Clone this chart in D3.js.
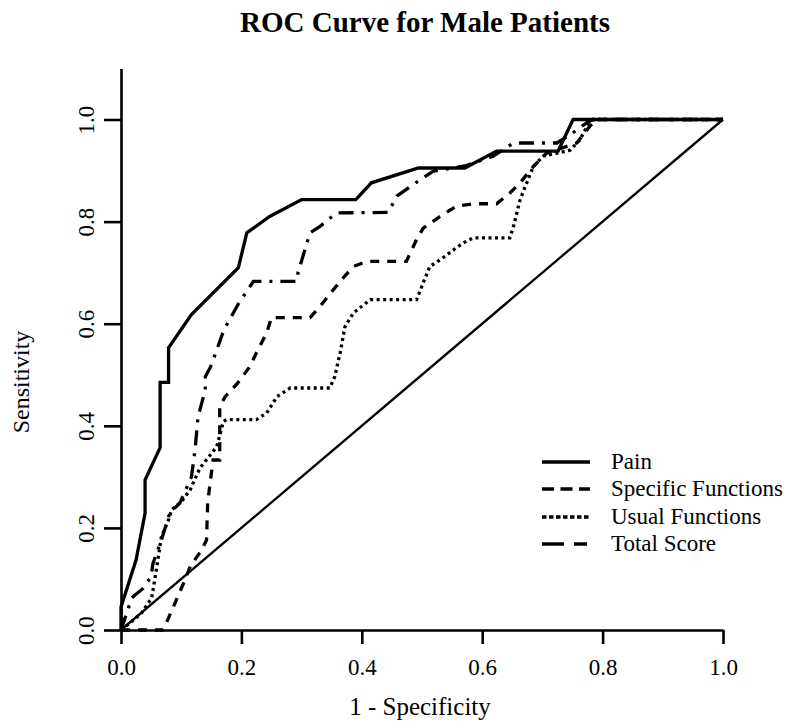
<!DOCTYPE html>
<html>
<head>
<meta charset="utf-8">
<script src="https://cdn.jsdelivr.net/npm/d3@7"></script>
<style>
  body { margin: 0; background: #fff; }
  svg { display: block; font-family: "Liberation Serif", "DejaVu Serif", serif; }
</style>
</head>
<body>
<svg id="chart" width="801" height="728"></svg>
<script>
// values (x = 1 - specificity, y = sensitivity)
const painFpr = [0, 0, 0.025, 0.04, 0.04, 0.065, 0.065, 0.079, 0.079, 0.117, 0.195, 0.209, 0.247, 0.30, 0.39, 0.416, 0.494, 0.571, 0.624, 0.726, 0.751, 1.0];
const painTpr = [0, 0.045, 0.137, 0.229, 0.294, 0.357, 0.485, 0.485, 0.553, 0.618, 0.71, 0.778, 0.81, 0.843, 0.843, 0.876, 0.905, 0.905, 0.938, 0.938, 1.0, 1.0];

const specFpr = [0, 0.07, 0.081, 0.104, 0.115, 0.134, 0.142, 0.144, 0.148, 0.153, 0.164, 0.164, 0.173, 0.194, 0.214, 0.225, 0.242, 0.25, 0.314, 0.33, 0.364, 0.386, 0.408, 0.474, 0.491, 0.502, 0.53, 0.557, 0.585, 0.624, 0.646, 0.663, 0.685, 0.707, 0.757, 0.779, 0.79, 1.0];
const specTpr = [0, 0, 0.029, 0.092, 0.124, 0.157, 0.176, 0.249, 0.288, 0.333, 0.333, 0.437, 0.457, 0.484, 0.516, 0.543, 0.582, 0.612, 0.612, 0.633, 0.683, 0.712, 0.722, 0.722, 0.765, 0.787, 0.81, 0.83, 0.835, 0.835, 0.856, 0.876, 0.908, 0.934, 0.954, 0.987, 1.0, 1.0];

const usualFpr = [0, 0.015, 0.034, 0.051, 0.056, 0.062, 0.067, 0.079, 0.084, 0.10, 0.115, 0.131, 0.159, 0.17, 0.175, 0.225, 0.242, 0.259, 0.281, 0.347, 0.355, 0.364, 0.372, 0.386, 0.414, 0.491, 0.502, 0.513, 0.53, 0.568, 0.585, 0.646, 0.652, 0.663, 0.674, 0.685, 0.701, 0.746, 0.762, 0.776, 0.784, 1.0];
const usualTpr = [0, 0.014, 0.033, 0.063, 0.098, 0.143, 0.182, 0.216, 0.235, 0.251, 0.275, 0.317, 0.359, 0.408, 0.412, 0.412, 0.425, 0.457, 0.474, 0.474, 0.496, 0.543, 0.594, 0.621, 0.647, 0.647, 0.68, 0.712, 0.725, 0.758, 0.768, 0.768, 0.791, 0.843, 0.876, 0.908, 0.928, 0.94, 0.96, 0.99, 1.0, 1.0];

const totalFpr = [0, 0.018, 0.037, 0.05, 0.053, 0.067, 0.081, 0.098, 0.117, 0.123, 0.128, 0.14, 0.14, 0.149, 0.171, 0.196, 0.22, 0.292, 0.294, 0.314, 0.33, 0.358, 0.444, 0.458, 0.497, 0.519, 0.571, 0.618, 0.652, 0.724, 0.746, 0.774, 0.784, 1.0];
const totalTpr = [0, 0.063, 0.082, 0.104, 0.13, 0.176, 0.229, 0.249, 0.30, 0.353, 0.418, 0.47, 0.496, 0.516, 0.588, 0.641, 0.683, 0.683, 0.70, 0.778, 0.79, 0.817, 0.818, 0.85, 0.882, 0.899, 0.909, 0.928, 0.954, 0.954, 0.97, 0.994, 1.0, 1.0];

const refFpr = [0, 1];
const refTpr = [0, 1];

const seriesNames = ["Pain", "Specific Functions", "Usual Functions", "Total Score"];
const xTicks = [0, 0.2, 0.4, 0.6, 0.8, 1.0];
const yTicks = [0, 0.2, 0.4, 0.6, 0.8, 1.0];

// line styles per series
const styles = {
    "Pain": { dash: null, legendDash: null },
    "Specific Functions": { dash: "9,8", legendDash: "12,6.5" },
    "Usual Functions": { dash: "3,3.5", legendDash: "4.5,2.5" },
    "Total Score": { dash: "15,8,3,8", legendDash: "22,10,13,10" }
};

function zipPoints(xs, ys) {
    return xs.map((x, i) => ({ x: x, y: ys[i] }));
}

const series = [
    { name: "Pain", points: zipPoints(painFpr, painTpr) },
    { name: "Specific Functions", points: zipPoints(specFpr, specTpr) },
    { name: "Usual Functions", points: zipPoints(usualFpr, usualTpr) },
    { name: "Total Score", points: zipPoints(totalFpr, totalTpr) }
];

const svg = d3.select("#chart");

const area = { left: 121, right: 723, bottom: 630, top1: 119.5 };

const scX = d3.scaleLinear().domain([0, 1]).range([area.left, area.right]);
const unitY = area.bottom - area.top1;
const scY = d3.scaleLinear().domain([0, 1.1]).range([area.bottom, area.bottom - 1.1 * unitY]);

// title
svg.append("text")
    .attr("x", 425)
    .attr("y", 32)
    .attr("text-anchor", "middle")
    .style("font-size", "29px")
    .style("font-weight", "bold")
    .text("ROC Curve for Male Patients");

// axes
const axisX = d3.axisBottom(scX)
    .tickValues(xTicks)
    .tickSize(14)
    .tickSizeOuter(0)
    .tickFormat(d3.format(".1f"));

const gx = svg.append("g")
    .attr("transform", `translate(0, ${area.bottom})`)
    .call(axisX);

gx.selectAll("text")
    .attr("y", 45)
    .attr("dy", 0)
    .style("font-size", "23px")
    .style("fill", "#000");

const axisY = d3.axisLeft(scY)
    .tickValues(yTicks)
    .tickSize(17)
    .tickSizeOuter(0)
    .tickFormat(d3.format(".1f"));

const gy = svg.append("g")
    .attr("transform", `translate(${area.left}, 0)`)
    .call(axisY);

gy.selectAll("text")
    .attr("transform", "rotate(-90)")
    .attr("x", 0)
    .attr("y", -27)
    .attr("dy", 0)
    .attr("text-anchor", "middle")
    .style("font-size", "23px")
    .style("fill", "#000");

svg.selectAll(".domain, .tick line")
    .attr("stroke", "#000")
    .attr("stroke-width", 2.6);

gx.attr("font-family", null).attr("font-size", null);
gy.attr("font-family", null).attr("font-size", null);

// axis labels
svg.append("text")
    .attr("x", 420)
    .attr("y", 715)
    .attr("text-anchor", "middle")
    .style("font-size", "25px")
    .text("1 - Specificity");

svg.append("text")
    .attr("transform", "translate(29, 382) rotate(-90)")
    .attr("text-anchor", "middle")
    .style("font-size", "24px")
    .text("Sensitivity");

const lineGen = d3.line()
    .x(d => scX(d.x))
    .y(d => scY(d.y));

// reference diagonal
svg.append("path")
    .datum(zipPoints(refFpr, refTpr))
    .attr("fill", "none")
    .attr("stroke", "#000")
    .attr("stroke-width", 2.3)
    .attr("d", lineGen);

// ROC curves
series.forEach(s => {
    svg.append("path")
        .datum(s.points)
        .attr("fill", "none")
        .attr("stroke", "#000")
        .attr("stroke-width", 3.3)
        .attr("stroke-linejoin", "miter")
        .attr("stroke-dasharray", styles[s.name].dash)
        .attr("d", lineGen);
});

// legend
const legendRows = [462, 489, 517, 544];
const legend = svg.append("g");
seriesNames.forEach((name, i) => {
    legend.append("line")
        .attr("x1", 542)
        .attr("x2", 590)
        .attr("y1", legendRows[i])
        .attr("y2", legendRows[i])
        .attr("stroke", "#000")
        .attr("stroke-width", 3.3)
        .attr("stroke-dasharray", styles[name].legendDash);
    legend.append("text")
        .attr("x", 611)
        .attr("y", legendRows[i] + 7)
        .style("font-size", "23px")
        .text(name);
});
</script>
</body>
</html>
